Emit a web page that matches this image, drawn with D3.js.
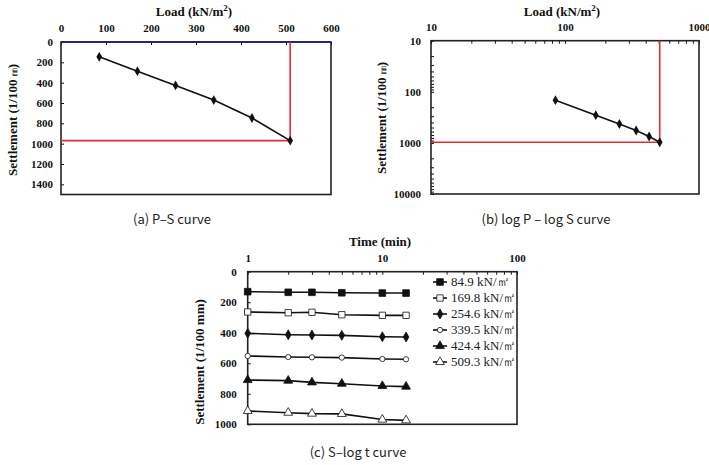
<!DOCTYPE html>
<html>
<head>
<meta charset="utf-8">
<script src="https://cdn.jsdelivr.net/npm/d3@7"></script>
<style>
  body { margin: 0; background: #fff; }
  .tick line { stroke: #111; stroke-width: 1; }
</style>
</head>
<body>
<svg id="chart"></svg>
<script>
// 하중 단계 (kN/m2)
const loads = [84.9, 169.8, 254.6, 339.5, 424.4, 509.3];
// 각 하중 단계의 최종 침하량 (1/100 mm)
const settlements = [146, 287, 427, 571, 748, 970];
// 경과 시간 (min)
const times = [1, 2, 3, 5, 10, 15];
// 시간-침하량, 하중 단계별
const s849 = [131, 135, 135, 138, 140, 140];
const s1698 = [264, 269, 266, 282, 286, 286];
const s2546 = [404, 413, 415, 417, 426, 428];
const s3395 = [552, 559, 561, 563, 572, 574];
const s4244 = [710, 714, 725, 734, 749, 753];
const s5093 = [913, 924, 930, 932, 969, 974];
const legendLabels = ['84.9 kN/㎡', '169.8 kN/㎡', '254.6 kN/㎡', '339.5 kN/㎡', '424.4 kN/㎡', '509.3 kN/㎡'];

const psXTicks = [0, 100, 200, 300, 400, 500, 600];
const psYTicks = [0, 200, 400, 600, 800, 1000, 1200, 1400];
const stYTicks = [0, 200, 400, 600, 800, 1000];

const svg = d3.select('#chart').attr('width', 709).attr('height', 465);

const serif = '"Liberation Serif", "Times New Roman", serif';
const sans = '"Noto Sans CJK KR", "Noto Sans", sans-serif';

function styleAxis(a) {
  a.select('.domain').remove();
  a.attr('font-family', serif).attr('font-size', 11).attr('font-weight', 'bold');
  a.selectAll('.tick text').attr('fill', '#111');
}

function frame(g, x0, x1, y0, y1, topColor) {
  g.append('rect')
    .attr('x', x0).attr('y', y0)
    .attr('width', x1 - x0).attr('height', y1 - y0)
    .attr('fill', 'none').attr('stroke', '#222').attr('stroke-width', 1.6);
  if (topColor) {
    g.append('line')
      .attr('x1', x0).attr('x2', x1).attr('y1', y0).attr('y2', y0)
      .attr('stroke', topColor).attr('stroke-width', 1.6);
  }
}

function title(g) {
  return g.append('text')
    .attr('font-family', serif).attr('font-weight', 'bold').attr('font-size', 13)
    .attr('fill', '#111').attr('text-anchor', 'middle');
}

function loadTitle(g, cx, y) {
  let t = title(g).attr('x', cx).attr('y', y);
  t.append('tspan').text('Load (kN/m');
  t.append('tspan').attr('font-size', 9).attr('dy', -5).text('2');
  t.append('tspan').attr('dy', 5).text(')');
}

function yTitle(g, x, y, small) {
  let t = title(g).attr('transform', `translate(${x},${y}) rotate(-90)`);
  if (small) {
    t.append('tspan').text('Settlement (1/100 ');
    t.append('tspan').attr('font-size', 8).attr('font-weight', 'normal').attr('font-family', sans).text('㎜');
    t.append('tspan').text(')');
  } else {
    t.text('Settlement (1/100 mm)');
  }
}

function caption(g, x, y, txt) {
  g.append('text').attr('font-family', sans).attr('font-size', 13).attr('fill', '#222')
    .attr('x', x).attr('y', y).attr('text-anchor', 'middle').text(txt);
}

const powFmt = (d) => {
  let l = Math.log10(d);
  return Math.abs(l - Math.round(l)) < 1e-6 ? String(d) : '';
};

/************** (a) P-S curve ***************/
{
  const g = svg.append('g');
  const x = d3.scaleLinear().domain([0, 600]).range([61, 331]);
  const y = d3.scaleLinear().domain([0, 1500]).range([42, 194.5]);

  g.append('g').attr('transform', 'translate(0,42)')
    .call(d3.axisTop(x).tickValues(psXTicks).tickFormat(d3.format('d')).tickSize(-3).tickPadding(10))
    .call(styleAxis);
  g.append('g').attr('transform', 'translate(61,0)')
    .call(d3.axisLeft(y).tickValues(psYTicks).tickFormat(d3.format('d')).tickSize(-3).tickPadding(8))
    .call(styleAxis);

  frame(g, 61, 331, 42, 194.5, '#1c1f6e');

  const last = loads.length - 1;
  // 항복 하중 표시선
  g.append('path')
    .attr('d', `M${x(0)},${y(settlements[last])}H${x(loads[last])}V${y(0)}`)
    .attr('fill', 'none').attr('stroke', '#e0302c').attr('stroke-width', 1.6);

  const line = d3.line().x((d, i) => x(loads[i])).y((d) => y(d));
  g.append('path').datum(settlements).attr('d', line)
    .attr('fill', 'none').attr('stroke', '#111').attr('stroke-width', 1.6);
  g.selectAll('.pt').data(settlements).enter().append('path')
    .attr('transform', (d, i) => `translate(${x(loads[i])},${y(d)})`)
    .attr('d', d3.symbol(d3.symbolDiamond, 28))
    .attr('fill', '#111');

  loadTitle(g, 194, 16);
  yTitle(g, 17, 120, true);
  caption(g, 172, 224, '(a) P–S curve');
}

/************** (b) log P - log S curve ***************/
{
  const g = svg.append('g');
  const x = d3.scaleLog().domain([10, 1000]).range([431, 699]);
  const y = d3.scaleLog().domain([10, 10000]).range([40.7, 194]);

  g.append('g').attr('transform', 'translate(0,40.7)')
    .call(d3.axisTop(x).tickValues(x.ticks()).tickFormat(powFmt).tickSize(-3).tickPadding(10))
    .call(styleAxis);
  g.append('g').attr('transform', 'translate(431,0)')
    .call(d3.axisLeft(y).tickValues(y.ticks()).tickFormat(powFmt).tickSize(-3).tickPadding(10))
    .call(styleAxis);

  frame(g, 431, 699, 40.7, 194);

  const last = loads.length - 1;
  g.append('path')
    .attr('d', `M${x(10)},${y(settlements[last])}H${x(loads[last])}V${y(10)}`)
    .attr('fill', 'none').attr('stroke', '#e0302c').attr('stroke-width', 1.6);

  const line = d3.line().x((d, i) => x(loads[i])).y((d) => y(d));
  g.append('path').datum(settlements).attr('d', line)
    .attr('fill', 'none').attr('stroke', '#111').attr('stroke-width', 1.6);
  g.selectAll('.pt').data(settlements).enter().append('path')
    .attr('transform', (d, i) => `translate(${x(loads[i])},${y(d)})`)
    .attr('d', d3.symbol(d3.symbolDiamond, 28))
    .attr('fill', '#111');

  loadTitle(g, 562, 16);
  yTitle(g, 386, 118, true);
  caption(g, 546, 224, '(b) log P – log S curve');
}

/************** (c) S-log t curve ***************/
{
  const g = svg.append('g');
  const x = d3.scaleLog().domain([1, 100]).range([247.7, 517]);
  const y = d3.scaleLinear().domain([0, 1000]).range([271.7, 424.3]);

  g.append('g').attr('transform', 'translate(0,271.7)')
    .call(d3.axisTop(x).tickValues(x.ticks()).tickFormat(powFmt).tickSize(-3).tickPadding(10))
    .call(styleAxis);
  g.append('g').attr('transform', 'translate(247.7,0)')
    .call(d3.axisLeft(y).tickValues(stYTicks).tickFormat(d3.format('d')).tickSize(-3).tickPadding(11))
    .call(styleAxis);

  frame(g, 247.7, 517, 271.7, 424.3);

  const series = [s849, s1698, s2546, s3395, s4244, s5093];
  const marks = [
    { type: d3.symbolSquare, size: 44, fill: '#111' },
    { type: d3.symbolSquare, size: 40, fill: '#fff' },
    { type: d3.symbolDiamond, size: 28, fill: '#111' },
    { type: d3.symbolCircle, size: 22, fill: '#fff' },
    { type: d3.symbolTriangle, size: 34, fill: '#111' },
    { type: d3.symbolTriangle, size: 34, fill: '#fff' }
  ];
  const line = d3.line().x((d, i) => x(times[i])).y((d) => y(d));

  series.forEach((s, k) => {
    g.append('path').datum(s).attr('d', line)
      .attr('fill', 'none').attr('stroke', '#111').attr('stroke-width', 1.6);
    g.selectAll('.m' + k).data(s).enter().append('path')
      .attr('transform', (d, i) => `translate(${x(times[i])},${y(d)})`)
      .attr('d', d3.symbol(marks[k].type, marks[k].size))
      .attr('fill', marks[k].fill).attr('stroke', '#111').attr('stroke-width', 0.8);
  });

  // 범례
  const leg = g.append('g');
  legendLabels.forEach((lab, k) => {
    let ly = 282 + k * 16;
    leg.append('line').attr('x1', 433).attr('x2', 447).attr('y1', ly).attr('y2', ly)
      .attr('stroke', '#111').attr('stroke-width', 1.6);
    leg.append('path').attr('transform', `translate(440,${ly})`)
      .attr('d', d3.symbol(marks[k].type, marks[k].size))
      .attr('fill', marks[k].fill).attr('stroke', '#111').attr('stroke-width', 0.8);
    leg.append('text').attr('font-family', serif).attr('font-size', 13).attr('fill', '#222')
      .attr('x', 451).attr('y', ly + 4).text(lab);
  });

  title(g).attr('x', 380).attr('y', 246).text('Time (min)');
  yTitle(g, 204, 362, false);
  caption(g, 358, 457, '(c) S–log t curve');
}
</script>
</body>
</html>
